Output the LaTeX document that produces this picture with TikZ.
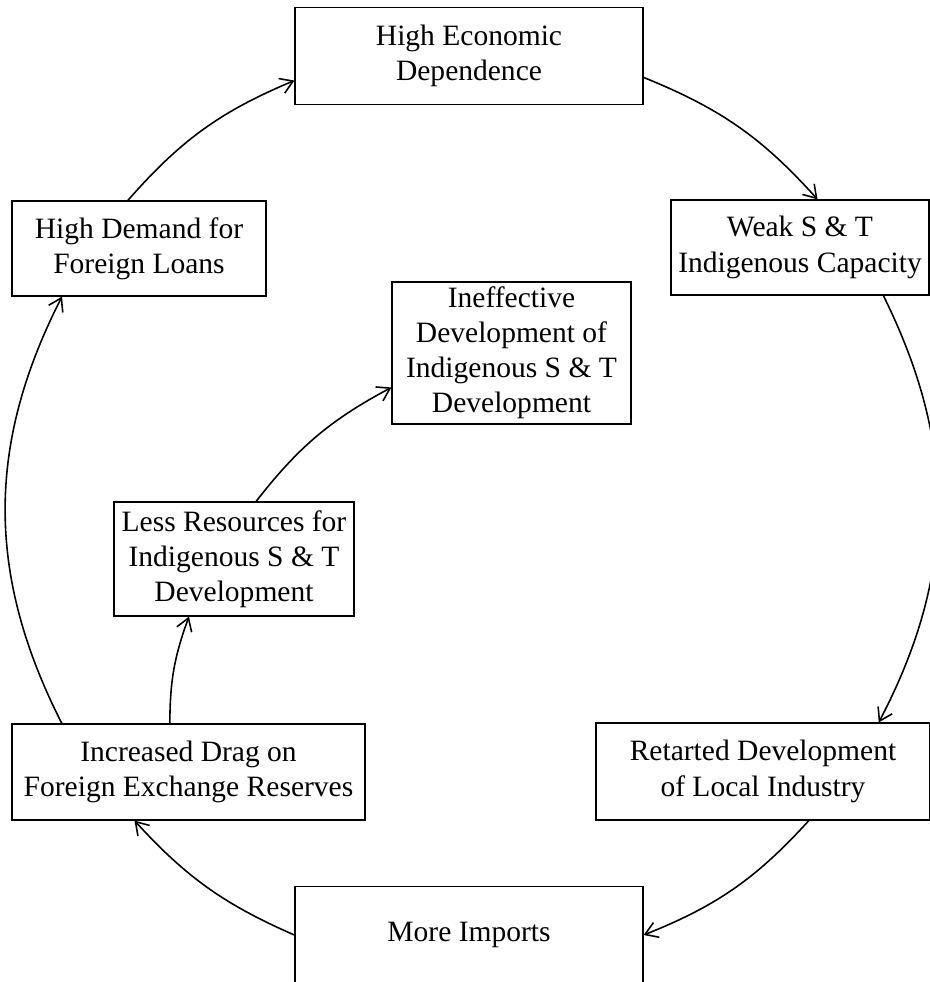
\documentclass[tikz,border=0pt]{standalone}
\usepackage{fontspec}
\setmainfont{Liberation Serif}
\usetikzlibrary{arrows.meta}

\begin{document}
\begin{tikzpicture}[
  box/.style={draw, line width=0.7pt, align=center, inner sep=2pt,
    font=\fontsize{16.8}{20}\selectfont},
  flow/.style={-{Straight Barb[length=7pt,width=9pt]}, line width=0.9pt}]
\useasboundingbox (0,0) rectangle (18.58,-19.64);

% Outer cycle
\node[box, minimum width=6.96cm, minimum height=1.94cm] (dep) at (9.38,-1.12) {High Economic\\Dependence};
\node[box, minimum width=5.16cm, minimum height=1.90cm] (weak) at (16.00,-4.95) {Weak S \& T\\Indigenous Capacity};
\node[box, minimum width=6.68cm, minimum height=1.94cm] (ret) at (15.26,-15.43) {Retarted Development\\of Local Industry};
\node[box, minimum width=6.96cm, minimum height=1.94cm] (imp) at (9.38,-18.70) {More Imports};
\node[box, minimum width=7.06cm, minimum height=1.92cm] (drag) at (3.77,-15.44) {Increased Drag on\\Foreign Exchange Reserves};
\node[box, minimum width=5.08cm, minimum height=1.90cm] (loans) at (2.78,-4.97) {High Demand for\\Foreign Loans};

% Inner branch
\node[box, minimum width=4.80cm, minimum height=2.28cm] (less) at (4.68,-11.18) {Less Resources for\\Indigenous S \& T\\Development};
\node[box, minimum width=4.78cm, minimum height=2.84cm] (ineff) at (10.23,-7.06) {Ineffective\\Development of\\Indigenous S \& T\\Development};

\draw[flow] (dep.-7) to[bend left=13] (weak.70);
\draw[flow] (weak.-30) to[bend left=27] (ret.23);
\draw[flow] (ret.-47) to[bend left=13] (imp.east);
\draw[flow] (imp.west) to[bend left=12] (drag.-138);
\draw[flow] (drag.159) to[bend left=27] (loans.212);
\draw[flow] (loans.103) to[bend left=13] (dep.188);

\draw[flow] (drag.111) to[bend left=10] (less.-128);
\draw[flow] (less.69) to[bend left=12] (ineff.196);
\end{tikzpicture}
\end{document}
